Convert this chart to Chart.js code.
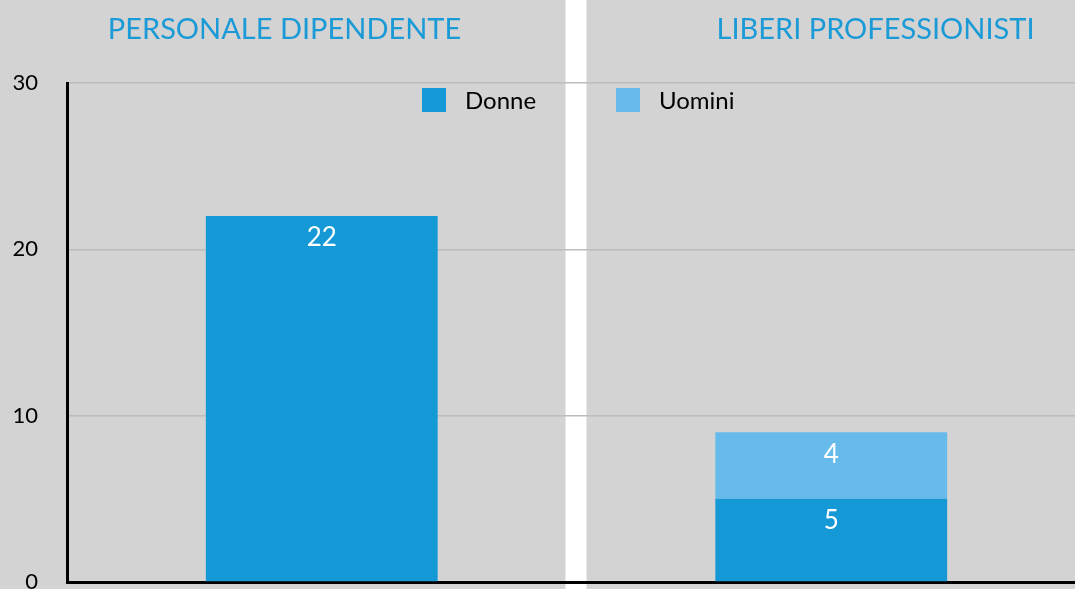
<!DOCTYPE html>
<html>
<head>
<meta charset="utf-8">
<script src="https://cdn.jsdelivr.net/npm/chart.js@4/dist/chart.umd.min.js"></script>
<style>
html,body{margin:0;padding:0;overflow:hidden;background:#d3d3d3;}
canvas{display:block;}
</style>
</head>
<body>
<canvas id="c" width="1100" height="589" style="width:1100px;height:589px"></canvas>
<script>
const categories = ['PERSONALE DIPENDENTE', 'LIBERI PROFESSIONISTI'];
const donne = [22, 5];
const uomini = [null, 4];
const yTicks = [0, 10, 20, 30];
const seriesNames = ['Donne', 'Uomini'];
const seriesColors = ['#1499d6', '#66bbea'];

const FONT = 'Lato, "DejaVu Sans", sans-serif';

const bgPlugin = {
  id: 'bg',
  beforeDraw(chart) {
    const ctx = chart.ctx;
    ctx.save();
    ctx.fillStyle = '#d3d3d3';
    ctx.fillRect(0, 0, chart.width, chart.height);
    const xs = chart.scales.x;
    const mid = xs.getPixelForValue(0.5);
    ctx.fillStyle = '#ffffff';
    ctx.fillRect(mid - 11, 0, 21, chart.height);
    ctx.fillStyle = '#1a9ad6';
    ctx.font = '29px ' + FONT;
    ctx.textAlign = 'center';
    ctx.textBaseline = 'middle';
    const titleX = [mid - 292, mid + 299];
    categories.forEach((t, i) => ctx.fillText(t, titleX[i], 30));
    ctx.restore();
  }
};

const legendPlugin = {
  id: 'customLegend',
  afterDraw(chart) {
    const ctx = chart.ctx;
    const a = chart.chartArea;
    ctx.save();
    ctx.font = '24px ' + FONT;
    ctx.textBaseline = 'middle';
    ctx.textAlign = 'left';
    const starts = [a.left + 355, a.left + 549];
    chart.data.datasets.forEach((ds, i) => {
      ctx.fillStyle = ds.backgroundColor;
      ctx.fillRect(starts[i], a.top + 5, 24, 24);
      ctx.fillStyle = '#000';
      ctx.fillText(ds.label, starts[i] + 43, a.top + 18);
    });
    ctx.restore();
  }
};

const labelPlugin = {
  id: 'valueLabels',
  afterDatasetsDraw(chart) {
    const ctx = chart.ctx;
    ctx.save();
    ctx.font = '26px ' + FONT;
    ctx.fillStyle = '#ffffff';
    ctx.textAlign = 'center';
    ctx.textBaseline = 'middle';
    chart.data.datasets.forEach((ds, di) => {
      const meta = chart.getDatasetMeta(di);
      meta.data.forEach((bar, i) => {
        const v = ds.data[i];
        if (v === null || v === 0) return;
        ctx.fillText(String(v), bar.x, bar.y + 22);
      });
    });
    ctx.restore();
  }
};

new Chart(document.getElementById('c'), {
  type: 'bar',
  data: {
    labels: categories,
    datasets: [
      { label: seriesNames[0], data: donne, backgroundColor: seriesColors[0], barPercentage: 0.455, categoryPercentage: 1 },
      { label: seriesNames[1], data: uomini, backgroundColor: seriesColors[1], barPercentage: 0.455, categoryPercentage: 1 }
    ]
  },
  options: {
    responsive: false,
    animation: false,
    layout: { autoPadding: false, padding: { top: 83, bottom: 7, right: 14, left: 0 } },
    plugins: { legend: { display: false }, tooltip: { enabled: false }, title: { display: false } },
    scales: {
      x: {
        stacked: true,
        grid: { display: false, drawTicks: false },
        ticks: { display: false },
        afterFit(scale) { scale.height = 0; scale.paddingLeft = 0; scale.paddingRight = 0; },
        border: { display: true, color: '#000', width: 3 }
      },
      y: {
        stacked: true,
        min: 0, max: 30,
        afterBuildTicks(scale) { scale.ticks = yTicks.map(v => ({ value: v })); },
        afterFit(scale) { scale.width = 67; scale.paddingTop = 0; scale.paddingBottom = 0; },
        ticks: { color: '#000', font: { size: 22, family: FONT }, padding: 29 },
        grid: { color: '#bcbcbc', lineWidth: 1.5, drawTicks: false },
        border: { display: true, color: '#000', width: 3 }
      }
    }
  },
  plugins: [bgPlugin, legendPlugin, labelPlugin]
});
</script>
</body>
</html>
